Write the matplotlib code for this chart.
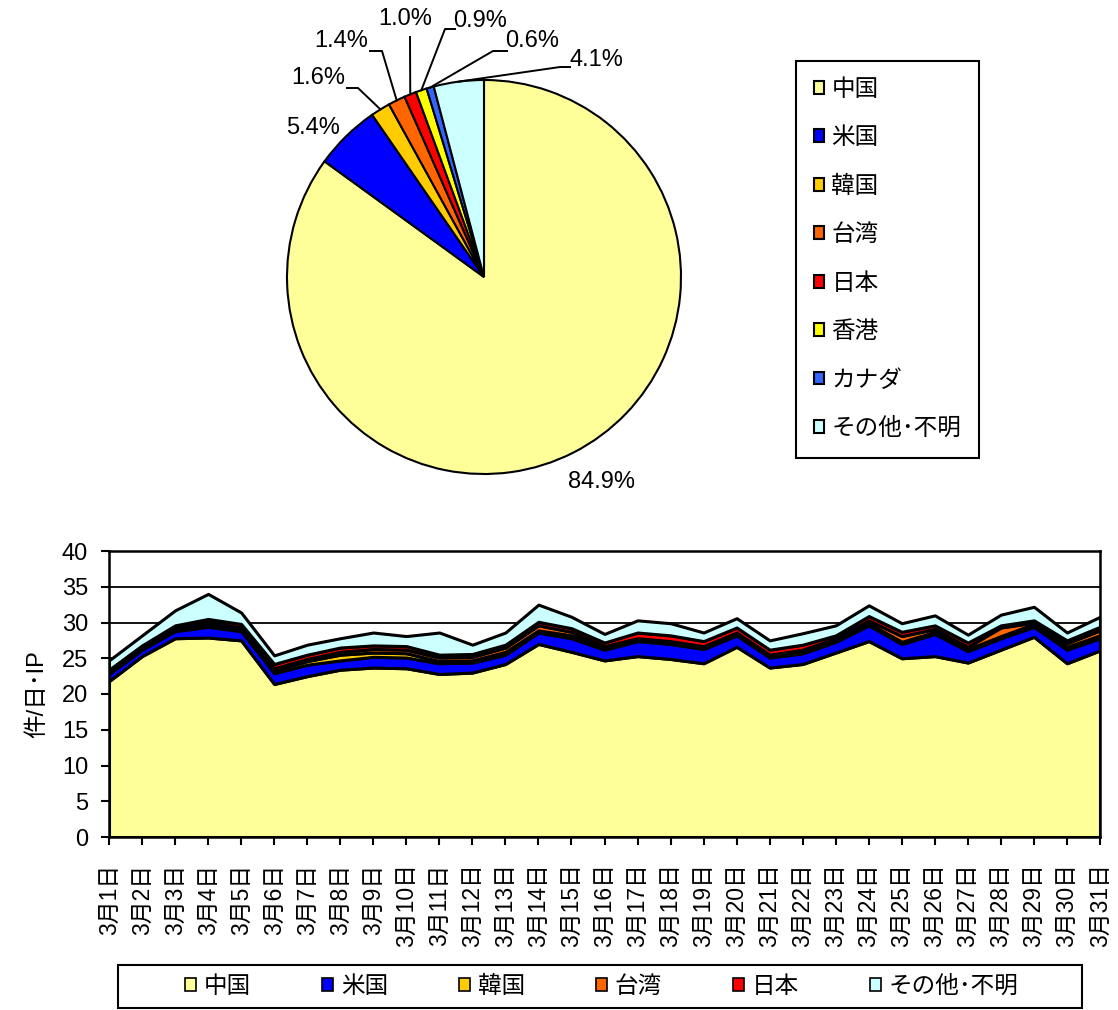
import matplotlib
matplotlib.use("Agg")
import matplotlib.pyplot as plt
from matplotlib.patches import Patch, Rectangle
import numpy as np

plt.rcParams['font.family'] = ['Liberation Sans', 'Noto Sans CJK JP', 'DejaVu Sans']
plt.rcParams['font.size'] = 17

# ---- pie data (March share by country) ----
pie_labels = ['中国', '米国', '韓国', '台湾', '日本', '香港', 'カナダ', 'その他･不明']
pie_share = [84.9, 5.4, 1.6, 1.4, 1.0, 0.9, 0.6, 4.1]
pie_colors = ['#FFFF99', '#0000FF', '#FFCC00', '#FF6600', '#FF0000', '#FFFF00', '#3366FF', '#CCFFFF']

# ---- daily stacked area data (件/日・IP) ----
days = list(range(1, 32))
day_labels = [f'3月{d}日' for d in days]
china = [21.8, 25.3, 27.8, 27.9, 27.5, 21.4, 22.5, 23.4, 23.7, 23.6, 22.8, 23.0, 24.2, 27.0, 25.9, 24.7,
         25.3, 24.9, 24.3, 26.6, 23.7, 24.2, 25.8, 27.4, 25.0, 25.3, 24.4, 26.2, 28.0, 24.3, 26.1]
usa = [1.0, 0.9, 1.0, 1.5, 1.3, 1.5, 1.6, 1.3, 1.5, 1.5, 1.5, 1.4, 1.3, 1.6, 1.9, 1.5,
       2.1, 2.1, 2.0, 1.6, 1.4, 1.5, 1.5, 2.2, 2.0, 3.1, 1.6, 1.6, 1.4, 1.9, 1.7]
korea = [0.2, 0.2, 0.2, 0.4, 0.3, 0.4, 0.5, 0.8, 0.6, 0.6, 0.3, 0.3, 0.4, 0.3, 0.4, 0.3,
         0.3, 0.3, 0.3, 0.3, 0.3, 0.3, 0.3, 0.3, 0.3, 0.3, 0.3, 0.3, 0.4, 0.4, 0.4]
taiwan = [0.1, 0.1, 0.2, 0.3, 0.2, 0.3, 0.3, 0.4, 0.5, 0.5, 0.5, 0.5, 0.6, 0.7, 0.5, 0.2,
          0.1, 0.1, 0.1, 0.1, 0.1, 0.2, 0.2, 0.4, 0.8, 0.4, 0.3, 1.2, 0.2, 0.5, 0.7]
japan = [0.3, 0.3, 0.4, 0.4, 0.5, 0.6, 0.6, 0.6, 0.5, 0.5, 0.4, 0.4, 0.4, 0.5, 0.5, 0.5,
         0.8, 0.8, 0.7, 0.7, 0.7, 0.7, 0.4, 0.6, 0.6, 0.5, 0.6, 0.3, 0.3, 0.4, 0.5]
other = [1.3, 1.4, 2.1, 3.5, 1.6, 1.2, 1.4, 1.3, 1.8, 1.4, 3.1, 1.3, 1.7, 2.4, 1.6, 1.2,
         1.7, 1.7, 1.2, 1.3, 1.3, 1.6, 1.4, 1.5, 1.2, 1.4, 1.1, 1.5, 1.9, 1.1, 1.4]
area_labels = ['中国', '米国', '韓国', '台湾', '日本', 'その他･不明']
area_colors = ['#FFFF99', '#0000FF', '#FFCC00', '#FF6600', '#FF0000', '#CCFFFF']

W, H = 1118, 1010
fig = plt.figure(figsize=(W / 100, H / 100), dpi=100)

# ---------------- pie ----------------
cx, cy, r = 484, 277, 197
pax = fig.add_axes([(cx - r) / W, (H - cy - r) / H, 2 * r / W, 2 * r / H])
wedges, _ = pax.pie(pie_share, colors=pie_colors, startangle=90, counterclock=False,
                    wedgeprops=dict(edgecolor='black', linewidth=1.5))
pax.set_xlim(-1, 1)
pax.set_ylim(-1, 1)
pax.set_aspect('equal')


def to_pie(px, py):
    return (px - cx) / r, (cy - py) / r


# label text centre and leader elbow points (pixel layout)
label_layout = [
    ((602, 482), []),
    ((313, 128), []),
    ((318, 78), [(347, 88), (358, 88)]),
    ((341, 41), [(370, 51), (382, 51)]),
    ((405, 19), [(410, 37)]),
    ((480, 21), [(455, 29), (445, 29)]),
    ((532, 41), [(507, 51), (493, 51)]),
    ((596, 60), [(570, 67), (560, 67)]),
]
for w, val, (tpos, elbow) in zip(wedges, pie_share, label_layout):
    tx, ty = to_pie(*tpos)
    pax.text(tx, ty, f'{val:.1f}%', ha='center', va='center', fontsize=17, clip_on=False)
    if elbow:
        mid = np.deg2rad((w.theta1 + w.theta2) / 2)
        pts = [to_pie(*p) for p in elbow] + [(np.cos(mid), np.sin(mid))]
        xs, ys = zip(*pts)
        pax.plot(xs, ys, color='black', lw=1.4, clip_on=False)

leg1 = fig.legend(handles=wedges, labels=pie_labels, loc='upper left',
                  bbox_to_anchor=(796 / W, 1 - 61 / H), borderaxespad=0,
                  fancybox=False, edgecolor='black', framealpha=1, fontsize=17,
                  handlelength=0.45, handleheight=0.45, handletextpad=0.3,
                  labelspacing=1.12, borderpad=0.75)
leg1.get_frame().set_linewidth(1.5)

# ---------------- stacked area ----------------
ax = fig.add_axes([109 / W, (H - 837) / H, (1100 - 109) / W, (837 - 551) / H])
ax.stackplot(days, china, usa, korea, taiwan, japan, other, colors=area_colors,
             edgecolor='black', linewidth=2.2, labels=area_labels)
ax.set_xlim(1, 31)
ax.set_ylim(0, 40)
ax.set_yticks(range(0, 41, 5))
ax.set_xticks(days)
ax.set_xticklabels(day_labels, rotation=90, va='top', ha='center')
ax.tick_params(axis='y', direction='out', length=6, width=1.5, pad=9, labelsize=17)
ax.tick_params(axis='x', direction='out', length=6, width=1.5, pad=13, labelsize=16.5)
ax.yaxis.grid(True, color='black', linewidth=1.3)
ax.set_axisbelow(True)
for s in ax.spines.values():
    s.set_linewidth(1.8)
ax.set_ylabel('件/日･IP', fontsize=17, labelpad=10)

# bottom legend with its own frame
fig.patches.append(Rectangle((118 / W, 1 - 1008 / H), (1082 - 118) / W, 43 / H,
                             transform=fig.transFigure, fill=False,
                             edgecolor='black', linewidth=1.5))
handles = [Patch(facecolor=c, edgecolor='black', linewidth=1.2) for c in area_colors]
fig.legend(handles=handles, labels=area_labels, loc='center',
           bbox_to_anchor=(602 / W, 1 - 987 / H), ncol=6, frameon=False, fontsize=17,
           handlelength=0.45, handleheight=0.45, handletextpad=0.35, columnspacing=3.0)

fig.savefig('out.png', dpi=100)
